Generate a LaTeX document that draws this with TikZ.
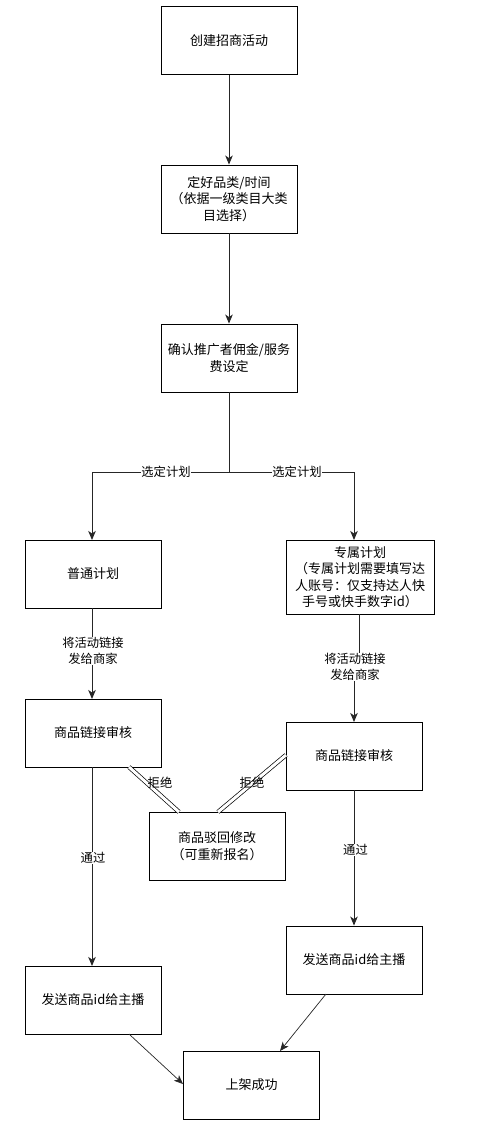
\documentclass[tikz,border=0pt]{standalone}
\usepackage{fontspec}
\setmainfont{Noto Sans CJK SC}
\usetikzlibrary{arrows.meta}
\begin{document}
\begin{tikzpicture}[x=1pt,y=-1pt,
  box/.style={draw=black,line width=0.9pt,fill=white,minimum width=136pt,minimum height=68pt,inner sep=1pt,align=center,font=\fontsize{13}{16.3}\selectfont},
  conn/.style={draw=black!85,line width=0.9pt,-{Stealth[length=9pt,width=7.5pt,inset=2.5pt]}},
  plain/.style={draw=black!85,line width=0.9pt},
  lbl/.style={fill=white,inner sep=0.5pt,align=center,font=\fontsize{12.3}{16}\selectfont},
  lnk/.style={draw=black,line width=0.7pt,double=white,double distance=3pt}]
\useasboundingbox (0,0) rectangle (487,1133);
\node[box] (b1) at (229,40.5) {创建招商活动};
\node[box] (b2) at (229,199) {定好品类/时间\\（依据一级类目大类\\目选择）};
\node[box] (b3) at (229,358) {确认推广者佣金/服务\\费设定};
\node[box] (b4) at (93,574) {普通计划};
\node[box,minimum width=148pt,minimum height=74pt] (b5) at (360,577) {专属计划\\（专属计划需要填写达\\人账号：仅支持达人快\\手号或快手数字id）};
\node[box] (b6) at (93,733) {商品链接审核};
\node[box] (b7) at (354,756) {商品链接审核};
\node[box] (b8) at (217,846) {商品驳回修改\\（可重新报名）};
\node[box] (b9) at (93,1000) {发送商品id给主播};
\node[box] (b10) at (354,960) {发送商品id给主播};
\node[box] (b11) at (251.5,1085) {上架成功};

\coordinate (split) at (229,472);
\coordinate (jog) at (359,667);
\coordinate (l1) at (129,767);
\coordinate (l2) at (179,812);
\coordinate (r1) at (286,755);
\coordinate (r2) at (218,812);
\coordinate (s1) at (129,1034);
\coordinate (s2) at (183,1084);
\coordinate (t1) at (326,994);
\coordinate (t2) at (280,1051);

\draw[conn] (b1) -- (b2);
\draw[conn] (b2) -- (b3);
\draw[plain] (b3.south) -- (split);
\draw[conn] (split) -- (92,472) -- (92,540);
\draw[conn] (split) -- (354,472) -- (354,540);
\node[lbl] (lab1) at (166,472) {选定计划};
\node[lbl] (lab2) at (297,472) {选定计划};

\draw[conn] (b4.south -| 92,0) -- (92,699);
\node[lbl] (lab3) at (93,651) {将活动链接\\发给商家};
\draw[conn] (359,614) -- (jog) -- (354,667) -- (354,722);
\node[lbl] (lab4) at (355,667) {将活动链接\\发给商家};

\draw[conn] (92,767) -- (92,966);
\node[lbl] (lab5) at (93,858) {通过};
\draw[conn] (b7.south) -- (b10.north);
\node[lbl] (lab6) at (355.5,850) {通过};

\draw[lnk] (l1) -- (l2);
\draw[lnk] (r1) -- (r2);
\node[lbl,fill=none] (lab7) at (160,783) {拒绝};
\node[lbl,fill=none] (lab8) at (252,783) {拒绝};

\draw[conn,line width=0.7pt] (s1) -- (s2);
\draw[conn,line width=0.7pt] (t1) -- (t2);
\end{tikzpicture}
\end{document}
